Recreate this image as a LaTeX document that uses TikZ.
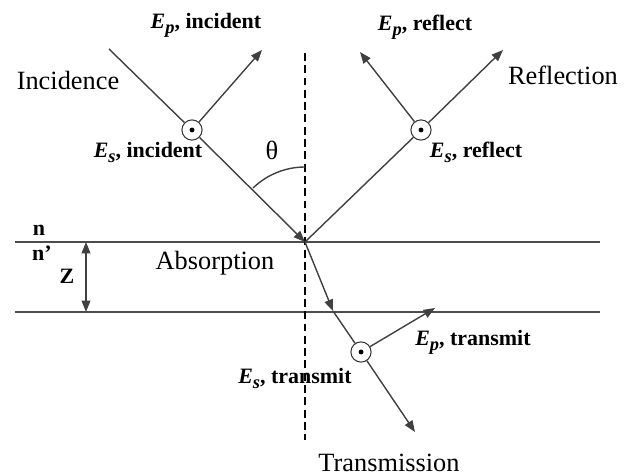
\documentclass[tikz,border=0pt]{standalone}
\usepackage{fontspec}
\setmainfont{Liberation Serif}
\usetikzlibrary{arrows.meta}
\newcommand{\Efld}[2]{\textbf{\textit{E}\raisebox{-0.5ex}{\textit{\fontsize{10.5}{12}\selectfont #1}}, #2}}

\begin{document}
\begin{tikzpicture}[x=0.02cm, y=0.02cm]
\tikzstyle{every node}+=[inner sep=0pt]
\tikzstyle{ray}=[draw=black!75, line width=0.8pt]
\tikzstyle{tip}=[-{Triangle[length=6.5pt,width=5pt]}]
\tikzstyle{spol}=[circle, draw=black!80, line width=0.6pt, minimum size=11.5pt, fill=white]
\tikzstyle{lbl}=[font=\fontsize{12.5}{15}\selectfont]
\tikzstyle{big}=[font=\fontsize{15}{18}\selectfont]
\useasboundingbox (0,0) rectangle (635,-475);
% interfaces and normal
\coordinate (O) at (305,-242);
\coordinate (top1) at (15,-242);
\coordinate (top2) at (600,-242);
\coordinate (bot1) at (15,-312);
\coordinate (bot2) at (600,-312);
\coordinate (nrm1) at (305,-53);
\coordinate (nrm2) at (305,-440);
\draw [black!70, line width=1pt] (top1) -- (top2);
\draw [black!70, line width=1pt] (bot1) -- (bot2);
\draw [black, line width=0.8pt, dash pattern=on 4.5pt off 2.5pt] (nrm1) -- (nrm2);
% s-polarisation marks
\node [spol] (sinc) at (192,-130) {};
\node [spol] (sref) at (421,-130) {};
\node [spol] (strn) at (361,-352) {};
\foreach \s in {sinc,sref,strn}
  \fill (\s.center) circle (1.4pt);
% rays
\coordinate (ia) at (109,-49);
\coordinate (rb) at (503,-50);
\coordinate (t1) at (333,-311);
\coordinate (tb) at (415,-432);
\draw [ray] (ia) -- (sinc);
\draw [ray,tip] (sinc) -- (O);
\draw [ray] (O) -- (sref);
\draw [ray,tip] (sref) -- (rb);
\draw [ray,tip] (O) -- (t1);
\draw [ray] (t1) -- (strn);
\draw [ray,tip] (strn) -- (tb);
% p-polarisation arrows
\coordinate (pinc) at (262,-50);
\coordinate (pref) at (360,-52);
\coordinate (ptrn) at (435,-308);
\draw [ray,tip] (sinc) -- (pinc);
\draw [ray,tip] (sref) -- (pref);
\draw [ray,tip] (strn) -- (ptrn);
% depth
\coordinate (zt) at (86,-242);
\coordinate (zb) at (86,-312);
\draw [ray, {Triangle[length=6.5pt,width=5pt]}-{Triangle[length=6.5pt,width=5pt]}] (zt) -- (zb);
% angle
\draw [ray] (O) ++(90:75) arc [start angle=90, end angle=134, radius=42.5pt];
% labels
\node [big] (inc) at (68,-80) {Incidence};
\node [big] (refl) at (563,-75) {Reflection};
\node [big] (abs) at (215,-263) {Absorption};
\node [big] (trns) at (389,-463) {Transmission};
\node [big] (th) at (272,-150) {θ};
\node [lbl] (lpi) at (206,-25) {\Efld{p}{incident}};
\node [lbl] (lsi) at (148,-152) {\Efld{s}{incident}};
\node [lbl] (lpr) at (425,-27) {\Efld{p}{reflect}};
\node [lbl] (lsr) at (476,-152) {\Efld{s}{reflect}};
\node [lbl] (lpt) at (473,-342) {\Efld{p}{transmit}};
\node [lbl] (lst) at (295,-378) {\Efld{s}{transmit}};
\node [lbl] (n1) at (39,-230) {\textbf{n}};
\node [lbl] (n2) at (42,-253) {\textbf{n’}};
\node [lbl] (z) at (67,-276) {\textbf{Z}};
\end{tikzpicture}
\end{document}
